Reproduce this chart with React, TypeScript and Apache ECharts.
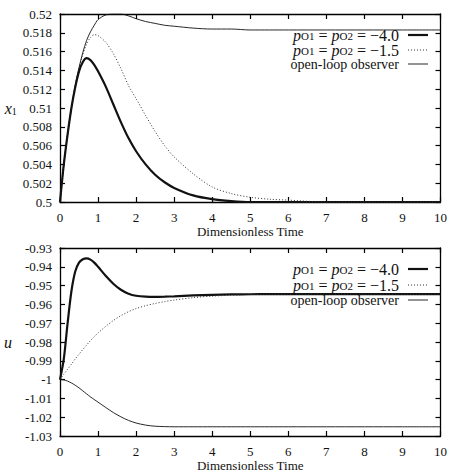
import React, { useEffect, useRef } from "react";
import * as echarts from "echarts";

// time samples (dimensionless)
const T = [0, 0.1, 0.2, 0.3, 0.4, 0.5, 0.6, 0.7, 0.8, 0.9, 1.0, 1.2, 1.4, 1.6, 1.8, 2.0, 2.25, 2.5, 2.75, 3.0, 3.5, 4.0, 4.5, 5.0, 5.5, 6.0, 7.0, 8.0, 9.0, 10.0];

// x1 panel
const x1Fast = [0.5, 0.504, 0.5072, 0.51, 0.5122, 0.5139, 0.5149, 0.5153, 0.5151, 0.5146, 0.5139, 0.5123, 0.5104, 0.5085, 0.5068, 0.5054, 0.504, 0.5029, 0.5021, 0.5015, 0.5007, 0.5003, 0.5001, 0.5, 0.5, 0.5, 0.5, 0.5, 0.5, 0.5];
const x1Slow = [0.5, 0.504, 0.5072, 0.51, 0.5123, 0.5142, 0.5157, 0.5168, 0.5175, 0.5178, 0.5177, 0.517, 0.5158, 0.5142, 0.5124, 0.511, 0.5092, 0.5075, 0.506, 0.5048, 0.503, 0.5016, 0.5009, 0.5005, 0.5003, 0.5002, 0.5, 0.5, 0.5, 0.5];
const x1Open = [0.5, 0.504, 0.5072, 0.51, 0.5124, 0.5143, 0.5159, 0.5172, 0.5181, 0.5188, 0.5194, 0.5199, 0.52, 0.52, 0.5198, 0.5195, 0.5192, 0.519, 0.5188, 0.5187, 0.5185, 0.5184, 0.5184, 0.5183, 0.5183, 0.5183, 0.5183, 0.5183, 0.5183, 0.5183];

// u panel
const uFast = [-1.0, -0.989, -0.97, -0.953, -0.9425, -0.9378, -0.936, -0.9355, -0.9362, -0.9378, -0.94, -0.9448, -0.949, -0.9522, -0.9543, -0.9554, -0.9559, -0.956, -0.9559, -0.9557, -0.9552, -0.9549, -0.9547, -0.9546, -0.9545, -0.9545, -0.9545, -0.9545, -0.9545, -0.9545];
const uSlow = [-1.0, -0.9972, -0.9945, -0.9918, -0.989, -0.9865, -0.984, -0.9816, -0.9793, -0.9772, -0.9752, -0.9717, -0.9686, -0.966, -0.9639, -0.9622, -0.9607, -0.9595, -0.9585, -0.9577, -0.9564, -0.9556, -0.9551, -0.9548, -0.9546, -0.9545, -0.9545, -0.9545, -0.9545, -0.9545];
const uOpen = [-1.0, -1.0002, -1.0008, -1.0018, -1.003, -1.0044, -1.006, -1.0076, -1.0092, -1.0106, -1.012, -1.0148, -1.0175, -1.0198, -1.0217, -1.0231, -1.0242, -1.0248, -1.025, -1.0251, -1.0251, -1.0251, -1.0251, -1.0251, -1.0251, -1.0251, -1.0251, -1.0251, -1.0251, -1.0251];

const X_TICK_INTERVAL = 1;
const X1_RANGE = [0.5, 0.52];
const X1_INTERVAL = 0.002;
const U_RANGE = [-1.03, -0.93];
const U_INTERVAL = 0.01;

const LEGEND_NAMES = ["pO1 = pO2 = −4.0", "pO1 = pO2 = −1.5", "open-loop observer"];
const LEGEND_RICH = ["{p|p}{s|O1}{n| = }{p|p}{s|O2}{n| = −4.0}", "{p|p}{s|O1}{n| = }{p|p}{s|O2}{n| = −1.5}", "{o|open-loop observer}"];

const FONT = "Liberation Serif";
const INK = "#111";

const richLegend = {
  p: { fontFamily: FONT, fontStyle: "italic", fontSize: 16, color: INK, lineHeight: 12, verticalAlign: "middle" },
  s: { fontFamily: FONT, fontSize: 11, color: INK, lineHeight: 12, verticalAlign: "bottom" },
  n: { fontFamily: FONT, fontSize: 16, color: INK, lineHeight: 12, verticalAlign: "middle" },
  o: { fontFamily: FONT, fontSize: 14, color: INK, lineHeight: 12, verticalAlign: "middle" },
};

const lineStyles = [
  { color: INK, width: 2.2, type: "solid" as any },
  { color: "#333", width: 1, type: [1, 2] as any },
  { color: INK, width: 0.9, type: "solid" as any },
];

function xAxes(gridIndex: number) {
  const common = {
    type: "value",
    gridIndex,
    min: 0,
    max: 10,
    interval: X_TICK_INTERVAL,
    splitLine: { show: false },
    axisLine: { show: true, onZero: false, lineStyle: { color: "#000", width: 1.3 } },
    axisTick: { show: true, inside: true, length: 5, lineStyle: { color: "#000", width: 1.2 } },
  };
  return [
    {
      ...common,
      position: "bottom",
      axisLabel: { color: INK, fontFamily: FONT, fontSize: 13, margin: 9 },
      name: "Dimensionless Time",
      nameLocation: "middle",
      nameGap: 23,
      nameTextStyle: { color: INK, fontFamily: FONT, fontSize: 13 },
    },
    { ...common, position: "top", axisLabel: { show: false } },
  ];
}

function yAxes(gridIndex: number, range: number[], interval: number, digits: number, nameRich: string, nameGap: number) {
  const common = {
    type: "value",
    gridIndex,
    min: range[0],
    max: range[1],
    interval,
    splitLine: { show: false },
    axisLine: { show: true, onZero: false, lineStyle: { color: "#000", width: 1.3 } },
    axisTick: { show: true, inside: true, length: 5, lineStyle: { color: "#000", width: 1.2 } },
  };
  return [
    {
      ...common,
      position: "left",
      axisLabel: {
        color: INK,
        fontFamily: FONT,
        fontSize: 13,
        margin: 8,
        formatter: (v: number) => String(+v.toFixed(digits)),
      },
      name: nameRich,
      nameLocation: "middle",
      nameRotate: 0,
      nameGap,
      nameTextStyle: {
        rich: {
          i: { fontFamily: FONT, fontStyle: "italic", fontSize: 16, color: INK, lineHeight: 16, verticalAlign: "middle" },
          s: { fontFamily: FONT, fontSize: 10, color: INK, lineHeight: 16, verticalAlign: "bottom" },
        },
      },
    },
    { ...common, position: "right", axisLabel: { show: false } },
  ];
}

function legendGraphics(ys: number[]) {
  const els: any[] = [];
  ys.forEach((y, k) => {
    els.push({
      type: "text",
      x: 399,
      y,
      z: 100,
      style: { text: LEGEND_RICH[k], align: "right", verticalAlign: "middle", rich: richLegend, fill: INK },
    });
    els.push({
      type: "line",
      z: 100,
      shape: { x1: 408, y1: y, x2: 428, y2: y },
      style: { stroke: lineStyles[k].color, lineWidth: lineStyles[k].width, lineDash: k === 1 ? [1, 2] : null },
    });
  });
  return els;
}

function makeSeries(values: number[][], axisIndex: number) {
  return values.map((vals, k) => ({
    name: LEGEND_NAMES[k] + (axisIndex ? " (u)" : ""),
    type: "line",
    xAxisIndex: axisIndex,
    yAxisIndex: axisIndex,
    data: T.map((t, i) => [t, vals[i]]),
    showSymbol: false,
    symbol: "none",
    smooth: 0.3,
    clip: true,
    lineStyle: lineStyles[k],
  }));
}

export default function App() {
  const ref = useRef<HTMLDivElement>(null);
  useEffect(() => {
    if (!ref.current) return;
    const chart = echarts.init(ref.current, undefined, { renderer: "svg" });
    chart.setOption({
      animation: false,
      backgroundColor: "#fff",
      grid: [
        { left: 60, top: 14, width: 382, height: 188 },
        { left: 60, top: 248, width: 382, height: 188 },
      ],
      xAxis: [...xAxes(0), ...xAxes(1)],
      yAxis: [
        ...yAxes(0, X1_RANGE, X1_INTERVAL, 3, "{i|x}{s|1}", 39),
        ...yAxes(1, U_RANGE, U_INTERVAL, 2, "{i|u}", 48),
      ],
      series: [
        ...makeSeries([x1Fast, x1Slow, x1Open], 0),
        ...makeSeries([uFast, uSlow, uOpen], 2),
      ],
      graphic: [...legendGraphics([35, 50, 64]), ...legendGraphics([269, 285, 300])],
    });
    return () => chart.dispose();
  }, []);
  return <div ref={ref} style={{ position: "absolute", left: 0, top: 0, width: 450, height: 474, background: "#fff" }} />;
}
